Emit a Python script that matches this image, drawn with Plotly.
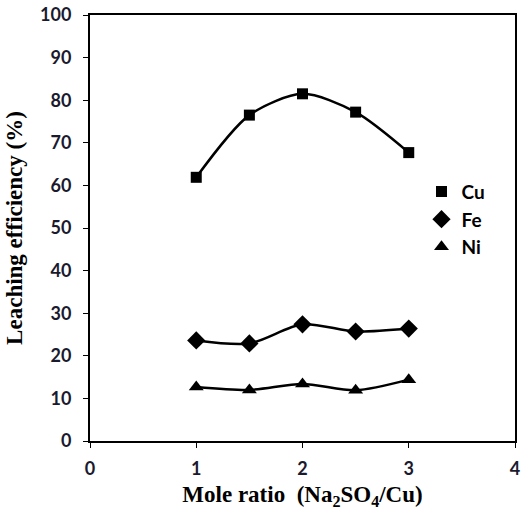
import plotly.graph_objects as go

ratio = [1, 1.5, 2, 2.5, 3]
cu = [61.9, 76.5, 81.5, 77.2, 67.7]
fe = [23.6, 22.9, 27.4, 25.7, 26.4]
ni = [12.7, 12.0, 13.4, 11.9, 14.4]

series = [("Cu", cu, "square", 11), ("Fe", fe, "diamond", 14), ("Ni", ni, "triangle-up", 13)]

fig = go.Figure()
for name, vals, sym, sz in series:
    fig.add_trace(go.Scatter(x=ratio, y=vals, mode="lines+markers", name=name,
                             line=dict(color="black", width=2.5, shape="spline", smoothing=0.8),
                             marker=dict(symbol=sym, size=sz, color="black"),
                             showlegend=False))
for name, vals, sym, sz in series:
    fig.add_trace(go.Scatter(x=[None], y=[None], mode="markers", name=name,
                             marker=dict(symbol=sym, size=sz, color="black")))

fig.update_layout(
    width=523, height=517,
    margin=dict(l=90, r=3, t=13, b=76),
    plot_bgcolor="white", paper_bgcolor="white",
    font=dict(family="Liberation Sans", color="black"),
    legend=dict(x=0.78, y=0.63, xanchor="left", yanchor="top",
                font=dict(family="Lato", size=19, weight="bold", color="black"),
                bgcolor="rgba(0,0,0,0)", itemwidth=30, tracegroupgap=0),
    xaxis=dict(range=[0, 4], tickvals=[0, 1, 2, 3, 4], showgrid=False, zeroline=False,
               showline=True, linecolor="black", linewidth=2, mirror=True,
               ticks="outside", ticklen=5, tickcolor="black", ticklabelstandoff=5,
               ticklabeloverflow="allow",
               tickfont=dict(family="Lato", size=18, weight="bold", color="#1a1a2e"),
               title=dict(text="Mole ratio  (Na<sub>2</sub>SO<sub>4</sub>/Cu)",
                          font=dict(family="Liberation Serif", size=23, weight="bold", color="black"),
                          standoff=8)),
    yaxis=dict(range=[0, 100], tickvals=list(range(0, 101, 10)), showgrid=False, zeroline=False,
               showline=True, linecolor="black", linewidth=2, mirror=True,
               ticks="outside", ticklen=5, tickcolor="black", ticklabelstandoff=8,
               tickfont=dict(family="Lato", size=18, weight="bold", color="#1a1a2e"),
               title=dict(text="Leaching efficiency (%)",
                          font=dict(family="Liberation Serif", size=23, weight="bold", color="black"),
                          standoff=11)),
)

fig.write_html("out.html")
